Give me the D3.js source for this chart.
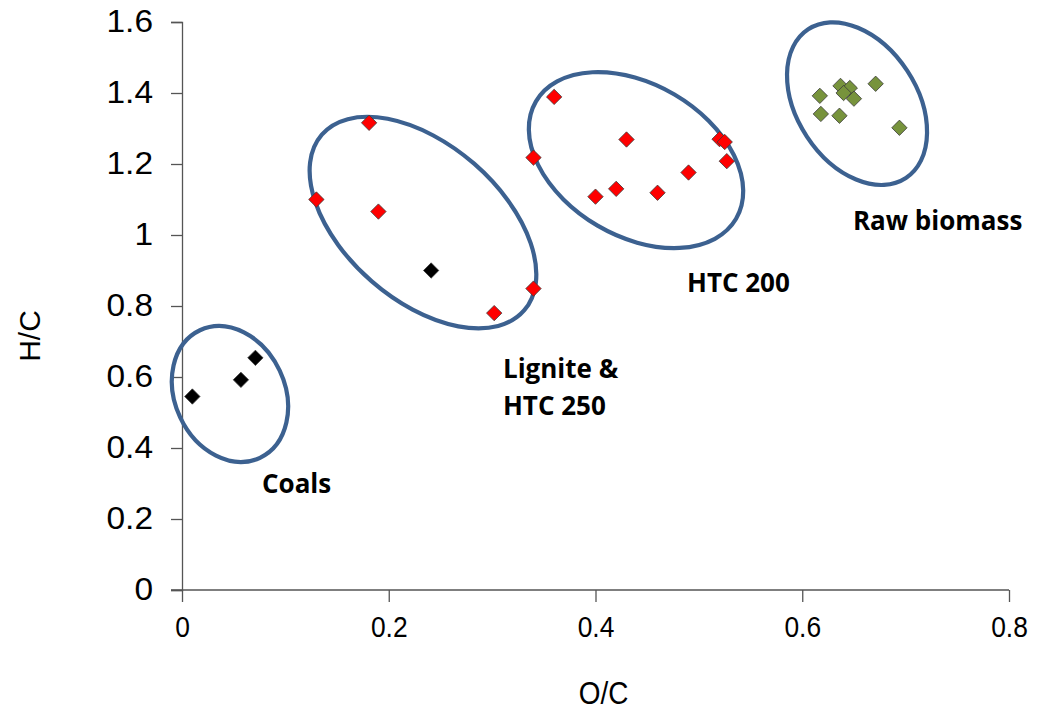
<!DOCTYPE html>
<html>
<head>
<meta charset="utf-8">
<script src="https://cdn.jsdelivr.net/npm/d3@7"></script>
<style>
  html, body { margin: 0; padding: 0; background: #fff; }
  svg { display: block; }
</style>
</head>
<body>
<svg id="chart" width="1038" height="719"></svg>
<script>
// Atomic ratios (O/C, H/C) of coals, lignite, hydrochars and raw biomass
const coalOC = [0.010, 0.057, 0.071, 0.241];
const coalHC = [0.545, 0.592, 0.654, 0.900];

const htcOC = [0.130, 0.181, 0.190, 0.302, 0.340,
               0.360, 0.340, 0.400, 0.420, 0.430, 0.460, 0.490, 0.520, 0.525, 0.527];
const htcHC = [1.100, 1.316, 1.066, 0.780, 0.849,
               1.389, 1.218, 1.108, 1.130, 1.269, 1.119, 1.176, 1.270, 1.262, 1.208];

const biomassOC = [0.617, 0.618, 0.636, 0.637, 0.646, 0.640, 0.650, 0.671, 0.694];
const biomassHC = [1.392, 1.341, 1.336, 1.420, 1.414, 1.400, 1.384, 1.426, 1.302];

const xTicks = [0, 0.2, 0.4, 0.6, 0.8];
const yTicks = [0, 0.2, 0.4, 0.6, 0.8, 1, 1.2, 1.4, 1.6];

// Group names and where their labels sit (data units)
const groupNames = ["Coals", "Lignite &\nHTC 250", "HTC 200", "Raw biomass"];
const groupLabelOC = [0.0774, 0.3105, 0.4885, 0.649];
const groupLabelHC = [0.2732, 0.597, 0.839, 1.014];

// Ellipses drawn round each group: centre in data units
const ringOC = [0.0464, 0.2331, 0.4392, 0.653];
const ringHC = [0.552, 1.035, 1.211, 1.370];

const svg = d3.select("#chart");
const x = d3.scaleLinear().domain([0, 0.8]).range([182, 1009]);
const y = d3.scaleLinear().domain([0, 1.6]).range([590, 22]);

const axisColor = "#555";
const tickFont = "'Liberation Sans', Arial, sans-serif";

// Y axis
const yAxis = svg.append("g").attr("transform", `translate(${x(0)},0)`)
  .call(d3.axisLeft(y).tickValues(yTicks).tickSize(11).tickPadding(18)
        .tickFormat(d => d3.format("")(d)));
yAxis.select(".domain").attr("stroke", axisColor).attr("stroke-width", 1.3);
yAxis.selectAll(".tick line").attr("stroke", axisColor).attr("stroke-width", 1.3);
const yStretch = 1.08;
yAxis.selectAll(".tick text")
  .attr("font-family", tickFont).attr("font-size", 31).attr("fill", "#000")
  .attr("x", -29 / yStretch)
  .attr("transform", `scale(${yStretch},1)`);

// X axis
const xAxis = svg.append("g").attr("transform", `translate(0,${y(0)})`)
  .call(d3.axisBottom(x).tickValues(xTicks).tickSize(12).tickSizeOuter(0).tickPadding(14)
        .tickFormat(d => d3.format("")(d)));
xAxis.select(".domain").attr("stroke", axisColor).attr("stroke-width", 1.3)
  .attr("d", `M${x(0) - 11},0H${x(0.8)}`);
xAxis.selectAll(".tick line").attr("stroke", axisColor).attr("stroke-width", 1.3);
// condensed tick labels, still centred on their ticks
xAxis.selectAll(".tick text")
  .attr("font-family", tickFont).attr("font-size", 30).attr("fill", "#000")
  .attr("transform", "scale(0.88,1)");

// Axis titles
svg.append("text")
  .attr("transform", `translate(${(x(0) + x(0.8)) / 2 + 8},704) scale(0.9,1)`)
  .attr("text-anchor", "middle")
  .attr("font-family", tickFont).attr("font-size", 31).text("O/C");
svg.append("text")
  .attr("transform", `translate(40,336) rotate(-90)`)
  .attr("text-anchor", "middle")
  .attr("font-family", tickFont).attr("font-size", 30).text("H/C");

// Group ellipses (semi-axes in px, rotation in degrees)
const ringA = [70.5, 134, 116, 89];
const ringB = [55, 78, 76, 60];
const ringAngle = [64.8, 41, 30.4, 56.7];
svg.append("g").selectAll("ellipse")
  .data(ringOC.map((d, i) => i))
  .join("ellipse")
  .attr("transform", i => `translate(${x(ringOC[i])},${y(ringHC[i])}) rotate(${ringAngle[i]})`)
  .attr("rx", i => ringA[i]).attr("ry", i => ringB[i])
  .attr("fill", "none").attr("stroke", "#3C6190").attr("stroke-width", 4.2);

// Diamond markers
const diamond = d3.symbol().type(d3.symbolDiamond2).size(150);
function drawSeries(ocs, hcs, fill) {
  svg.append("g").selectAll("path")
    .data(ocs.map((d, i) => [d, hcs[i]]))
    .join("path")
    .attr("d", diamond)
    .attr("transform", d => `translate(${x(d[0])},${y(d[1])})`)
    .attr("fill", fill).attr("stroke", "#3a3a3a").attr("stroke-width", 0.8);
}
drawSeries(htcOC, htcHC, "#FF0000");
drawSeries(biomassOC, biomassHC, "#77933C");
drawSeries(coalOC, coalHC, "#000000");

// Group labels
const labelFont = "'Open Sans', Lato, sans-serif";
groupNames.forEach((name, i) => {
  const t = svg.append("text")
    .attr("x", x(groupLabelOC[i])).attr("y", y(groupLabelHC[i]))
    .attr("font-family", labelFont).attr("font-weight", "bold").attr("font-size", 26)
    .attr("fill", "#000");
  name.split("\n").forEach((line, j) => {
    t.append("tspan").attr("x", x(groupLabelOC[i])).attr("dy", j === 0 ? 0 : 37).text(line);
  });
});
</script>
</body>
</html>
